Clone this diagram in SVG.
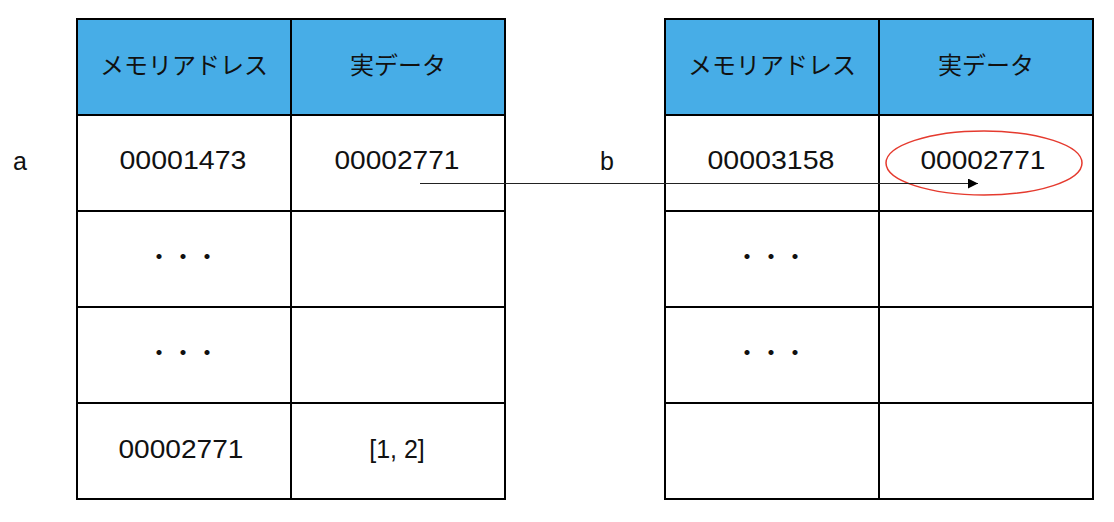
<svg xmlns="http://www.w3.org/2000/svg" width="1114" height="522" viewBox="0 0 1114 522">
  <style>
    .hdr { fill: #47ADE7; }
    .cell { fill: #FFFFFF; }
    .grid { fill: none; stroke: #000000; stroke-width: 2; }
    .jp { font-family: "Noto Sans CJK JP", "Noto Sans", sans-serif; font-size: 24px; fill: #111111; text-anchor: middle; }
    .num { font-family: "Liberation Sans", Arial, sans-serif; font-size: 25px; fill: #111111; text-anchor: middle; }
    .lbl { font-family: "Liberation Sans", Arial, sans-serif; font-size: 25px; fill: #111111; text-anchor: middle; }
  </style>
  <defs>
    <marker id="arrow" viewBox="0 0 10 10" refX="10" refY="5" markerWidth="10" markerHeight="10" markerUnits="userSpaceOnUse" orient="auto">
      <path d="M0,0 L10,5 L0,10 Z" fill="#000000"/>
    </marker>
  </defs>
  <rect width="1114" height="522" fill="#FFFFFF"/>

  <g id="table-a">
    <rect class="hdr" x="77" y="19" width="428" height="96"/>
    <rect class="cell" x="77" y="115" width="428" height="384"/>
    <path class="grid" d="M77,19 H505 V499 H77 Z M291,19 V499 M77,115 H505 M77,211 H505 M77,307 H505 M77,403 H505"/>
    <text class="jp" x="184" y="74">メモリアドレス</text>
    <text class="jp" x="398" y="74">実データ</text>
    <text class="num" x="183" y="169" textLength="127" lengthAdjust="spacingAndGlyphs">00001473</text>
    <text class="num" x="397" y="169" textLength="125" lengthAdjust="spacingAndGlyphs">00002771</text>
    <text class="jp" x="183" y="265">・・・</text>
    <text class="jp" x="183" y="361">・・・</text>
    <text class="num" x="181" y="458" textLength="125" lengthAdjust="spacingAndGlyphs">00002771</text>
    <text class="num" x="397" y="458">[1, 2]</text>
  </g>

  <g id="table-b">
    <rect class="hdr" x="665" y="19" width="428" height="96"/>
    <rect class="cell" x="665" y="115" width="428" height="384"/>
    <path class="grid" d="M665,19 H1093 V499 H665 Z M879,19 V499 M665,115 H1093 M665,211 H1093 M665,307 H1093 M665,403 H1093"/>
    <text class="jp" x="772" y="74">メモリアドレス</text>
    <text class="jp" x="986" y="74">実データ</text>
    <text class="num" x="771" y="169" textLength="127" lengthAdjust="spacingAndGlyphs">00003158</text>
    <text class="num" x="983" y="169" textLength="125" lengthAdjust="spacingAndGlyphs">00002771</text>
    <text class="jp" x="771" y="265">・・・</text>
    <text class="jp" x="771" y="361">・・・</text>
  </g>

  <g id="label-a">
    <text class="lbl" x="20" y="170">a</text>
  </g>
  <g id="label-b">
    <text class="lbl" x="607" y="170">b</text>
  </g>

  <g id="highlight">
    <ellipse cx="984" cy="163" rx="98" ry="32" fill="none" stroke="#E53A2E" stroke-width="1.5"/>
  </g>

  <g id="connectors">
    <line x1="420" y1="183.5" x2="978" y2="183.5" stroke="#222222" stroke-width="1" marker-end="url(#arrow)"/>
  </g>
</svg>
